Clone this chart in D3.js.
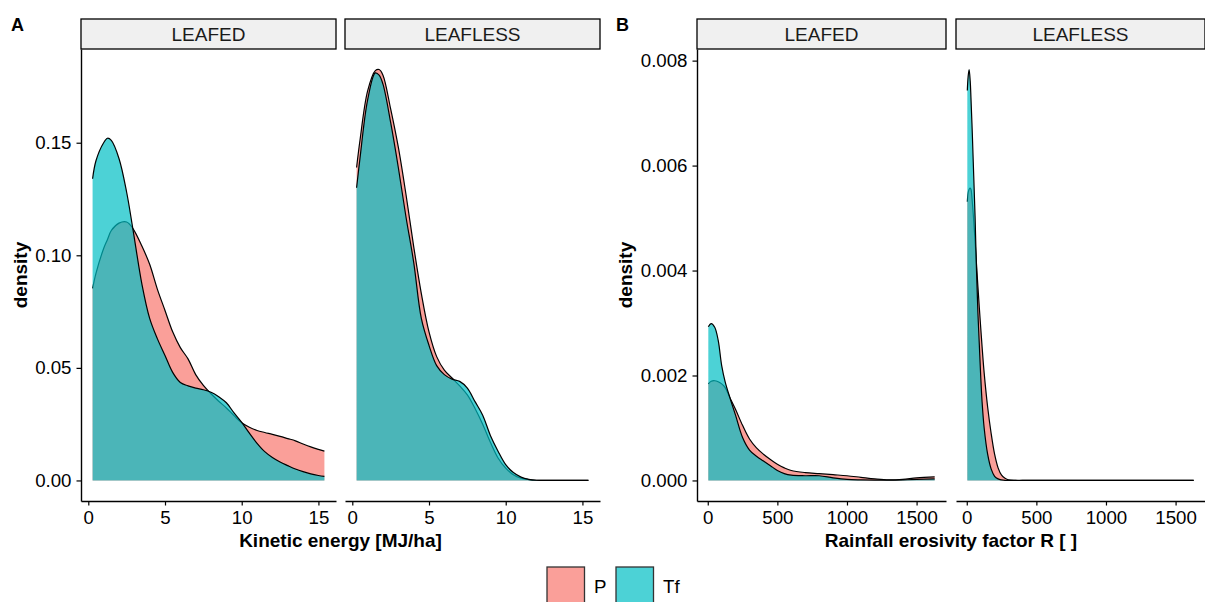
<!DOCTYPE html>
<html><head><meta charset="utf-8">
<script src="https://cdn.jsdelivr.net/npm/d3@7"></script>
<style>
body{margin:0;background:#fff}
svg{display:block;font-family:"Liberation Sans",Arial,Helvetica,sans-serif}
</style>
</head><body>
<svg id="chart" width="1205" height="602"></svg>
<script>
// ---------------- DATA ----------------
const facetNames = ["LEAFED", "LEAFLESS"];
const groupNames = ["P", "Tf"];

// Panel A: Kinetic energy [MJ/ha]
const keLeafedX   = [0.28,0.5,1,1.25,1.5,2,2.5,2.9,3.5,4,4.5,5,5.5,6,6.5,7,7.5,8,8.5,9,9.5,10,10.5,11,11.5,12,12.5,13,13.5,14,14.5,15,15.39];
const keLeafedP   = [0.0853,0.092,0.103,0.107,0.111,0.1143,0.1148,0.112,0.104,0.096,0.085,0.0755,0.066,0.059,0.054,0.047,0.0422,0.0385,0.0352,0.0322,0.0288,0.0256,0.0236,0.0222,0.0213,0.0205,0.0196,0.0186,0.0176,0.0162,0.0149,0.0138,0.013];
const keLeafedTf  = [0.134,0.142,0.150,0.152,0.151,0.143,0.128,0.112,0.087,0.072,0.063,0.0555,0.048,0.0435,0.042,0.041,0.0403,0.0392,0.0372,0.0345,0.030,0.0258,0.021,0.0165,0.0128,0.0102,0.0082,0.0066,0.0051,0.0039,0.0029,0.0022,0.0018];

const keLeaflessX  = [0.28,0.5,1,1.5,1.75,2,2.5,3,3.5,4,4.5,5,5.5,6,6.5,7,7.5,8,8.5,9,9.5,10,10.5,11,11.5,12,13,14,15,15.39];
const keLeaflessP  = [0.139,0.151,0.173,0.182,0.1825,0.180,0.165,0.148,0.127,0.104,0.083,0.066,0.055,0.049,0.0455,0.042,0.038,0.032,0.025,0.017,0.010,0.0055,0.0025,0.001,0.0004,0.0001,0,0,0,0];
const keLeaflessTf = [0.130,0.143,0.169,0.181,0.180,0.176,0.159,0.139,0.117,0.097,0.072,0.060,0.051,0.047,0.045,0.044,0.041,0.035,0.029,0.020,0.013,0.007,0.0035,0.0015,0.0005,0.0001,0,0,0,0];

// Panel B: Rainfall erosivity factor R
const rfLeafedX  = [4,25,50,75,100,125,160,200,250,300,350,400,450,500,550,600,700,800,900,1000,1100,1200,1300,1400,1500,1630];
const rfLeafedP  = [0.00184,0.00189,0.00190,0.00188,0.00184,0.00177,0.00157,0.00135,0.00105,0.00079,0.00062,0.00050,0.00040,0.00031,0.00024,0.00019,0.00015,0.00013,0.00011,0.00009,0.00006,0.00003,0.00001,0.00002,0.00005,0.00007];
const rfLeafedTf = [0.00293,0.00299,0.00292,0.00267,0.00219,0.00188,0.00157,0.00124,0.00082,0.00058,0.00046,0.00037,0.00028,0.00019,0.00013,0.00010,0.00009,0.00009,0.00005,0.00002,0.00001,0.000005,0.000005,0.00001,0.00002,0.00003];

const rfLeaflessX  = [4,10,17,25,30,40,50,60,70,80,90,100,110,125,150,175,200,225,250,275,300,350,400,600,1000,1630];
const rfLeaflessP  = [0.00531,0.00548,0.00555,0.00557,0.00555,0.00530,0.00495,0.00455,0.00412,0.00370,0.00330,0.00292,0.00255,0.00205,0.0014,0.0009,0.0005,0.00024,0.0001,0.00004,0.00001,0,0,0,0,0];
const rfLeaflessTf = [0.00743,0.0077,0.00783,0.0076,0.0073,0.0066,0.0058,0.0050,0.0040,0.0032,0.0026,0.0020,0.0015,0.0010,0.0005,0.00022,0.00008,0.00003,0.00001,0,0,0,0,0,0,0];

// Ticks
const keTicks = [0, 5, 10, 15];
const keTickLabels = ["0", "5", "10", "15"];
const keDensTicks = [0, 0.05, 0.10, 0.15];
const keDensLabels = ["0.00", "0.05", "0.10", "0.15"];
const rfTicks = [0, 500, 1000, 1500];
const rfTickLabels = ["0", "500", "1000", "1500"];
const rfDensTicks = [0, 0.002, 0.004, 0.006, 0.008];
const rfDensLabels = ["0.000", "0.002", "0.004", "0.006", "0.008"];

// ---------------- STYLE / LAYOUT ----------------
const colors = { P: "#F8766D", Tf: "#00BFC4" };
const fillAlpha = 0.7;
const plotTop = 49, plotBottom = 501, stripTop = 19;
const tickFont = 18.7, titleFont = 19;

const svg = d3.select("#chart");
const zip = (xs, ys) => xs.map((x, i) => [x, ys[i]]);
const curve = d3.curveCatmullRom.alpha(0.5);

function drawPanel(cfg) {
  const allX = cfg.facets.flatMap(f => f.x);
  const [xmin, xmax] = d3.extent(allX);
  const xr = xmax - xmin;
  const ymax = d3.max(cfg.facets.flatMap(f => [...f.P, ...f.Tf]));
  const y = d3.scaleLinear().domain([-0.05 * ymax, 1.05 * ymax]).range([plotBottom, plotTop]);

  cfg.facets.forEach((f, i) => {
    const x0 = cfg.facetX0[i];
    const x = d3.scaleLinear().domain([xmin - 0.05 * xr, xmax + 0.05 * xr]).range([x0, x0 + cfg.facetW]);
    const yc = v => y(Math.max(0, v));
    const area = d3.area().x(d => x(d[0])).y0(y(0)).y1(d => yc(d[1])).curve(curve);
    const line = d3.line().x(d => x(d[0])).y(d => yc(d[1])).curve(curve);
    const g = svg.append("g");
    groupNames.forEach(gn => {
      const pts = zip(f.x, f[gn]);
      g.append("path").attr("d", area(pts)).attr("fill", colors[gn]).attr("fill-opacity", fillAlpha).attr("stroke", "none");
      g.append("path").attr("d", line(pts)).attr("fill", "none").attr("stroke", "#000").attr("stroke-width", 1.2);
    });

    // strip
    svg.append("rect").attr("x", x0).attr("y", stripTop).attr("width", cfg.facetW).attr("height", plotTop - stripTop)
      .attr("fill", "#F0F0F0").attr("stroke", "#000").attr("stroke-width", 1.3);
    svg.append("text").attr("x", x0 + cfg.facetW / 2).attr("y", 41).attr("text-anchor", "middle")
      .attr("font-size", titleFont).attr("fill", "#1a1a1a").text(f.name);

    // x axis
    const xa = svg.append("g").attr("transform", `translate(0,${plotBottom})`)
      .call(d3.axisBottom(x).tickValues(cfg.xTicks).tickFormat((d, k) => cfg.xTickLabels[k])
        .tickSize(4.5).tickSizeOuter(0).tickPadding(5));
    styleAxis(xa);

    if (i === 0) {
      const ya = svg.append("g").attr("transform", `translate(${x0},0)`)
        .call(d3.axisLeft(y).tickValues(cfg.yTicks).tickFormat((d, k) => cfg.yTickLabels[k])
          .tickSize(4.5).tickSizeOuter(0).tickPadding(5));
      styleAxis(ya);
    }
  });

  // titles
  const cx = (cfg.facetX0[0] + cfg.facetX0[1] + cfg.facetW) / 2;
  svg.append("text").attr("x", cx).attr("y", 547).attr("text-anchor", "middle")
    .attr("font-size", titleFont).attr("font-weight", "bold").attr("fill", "#000").text(cfg.xTitle);
  svg.append("text").attr("transform", `translate(${cfg.yTitleX},275) rotate(-90)`).attr("text-anchor", "middle")
    .attr("font-size", titleFont).attr("font-weight", "bold").attr("fill", "#000").text("density");
  svg.append("text").attr("x", cfg.letterX).attr("y", 31).attr("font-size", 18).attr("font-weight", "bold")
    .attr("fill", "#000").text(cfg.letter);
}

function styleAxis(g) {
  g.attr("font-family", null).attr("font-size", null);
  g.select(".domain").attr("stroke", "#000").attr("stroke-width", 1.4);
  g.selectAll(".tick line").attr("stroke", "#000").attr("stroke-width", 1.2);
  g.selectAll(".tick text").attr("fill", "#000").attr("font-size", tickFont);
}

drawPanel({
  letter: "A", letterX: 11, facetX0: [81, 345], facetW: 255, yTitleX: 27,
  xTicks: keTicks, xTickLabels: keTickLabels, yTicks: keDensTicks, yTickLabels: keDensLabels,
  xTitle: "Kinetic energy [MJ/ha]",
  facets: [
    { name: facetNames[0], x: keLeafedX, P: keLeafedP, Tf: keLeafedTf },
    { name: facetNames[1], x: keLeaflessX, P: keLeaflessP, Tf: keLeaflessTf }
  ]
});

drawPanel({
  letter: "B", letterX: 616, facetX0: [697, 956], facetW: 249, yTitleX: 632,
  xTicks: rfTicks, xTickLabels: rfTickLabels, yTicks: rfDensTicks, yTickLabels: rfDensLabels,
  xTitle: "Rainfall erosivity factor R [ ]",
  facets: [
    { name: facetNames[0], x: rfLeafedX, P: rfLeafedP, Tf: rfLeafedTf },
    { name: facetNames[1], x: rfLeaflessX, P: rfLeaflessP, Tf: rfLeaflessTf }
  ]
});

// legend
const legendX = [547, 616];
const legendLabelX = [594, 663];
groupNames.forEach((gn, i) => {
  svg.append("rect").attr("x", legendX[i]).attr("y", 567).attr("width", 37.5).attr("height", 40)
    .attr("fill", colors[gn]).attr("fill-opacity", fillAlpha).attr("stroke", "#333").attr("stroke-width", 1.3);
  svg.append("text").attr("x", legendLabelX[i]).attr("y", 592.5).attr("font-size", tickFont).attr("fill", "#000").text(gn);
});
</script>
</body></html>
